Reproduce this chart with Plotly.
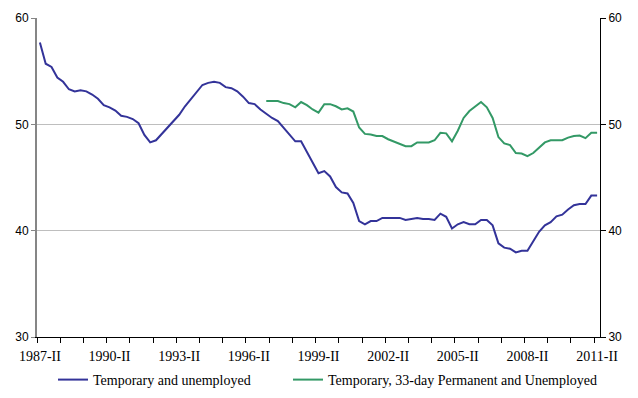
import plotly.graph_objects as go

quarters = []
for yr in range(1987, 2012):
    for q in ["I", "II", "III", "IV"]:
        quarters.append(f"{yr}-{q}")
quarters = quarters[1:98]  # 1987-II .. 2011-II

temp_unemployed = [
    57.7, 55.7, 55.4, 54.4, 54.0, 53.3, 53.1, 53.2, 53.1, 52.8,
    52.4, 51.8, 51.6, 51.3, 50.8, 50.7, 50.5, 50.1, 49.0, 48.3,
    48.5, 49.1, 49.7, 50.4, 50.9, 51.7, 52.4, 53.0, 53.7, 53.9,
    54.0, 53.9, 53.5, 53.4, 53.1, 52.6, 52.0, 51.9, 51.4, 51.0,
    50.6, 50.3, 49.7, 49.1, 48.4, 48.4, 47.4, 46.3, 45.4, 45.6,
    45.1, 44.1, 43.6, 43.5, 42.6, 40.9, 40.6, 40.9, 40.9, 41.2,
    41.2, 41.2, 41.2, 41.0, 41.1, 41.2, 41.1, 41.1, 41.0, 41.6,
    41.3, 40.2, 40.6, 40.8, 40.6, 40.6, 41.0, 41.0, 40.5, 38.8,
    38.4, 38.3, 37.95, 38.1, 38.1, 39.0, 39.9, 40.5, 40.8, 41.35,
    41.5, 42.0, 42.4, 42.5, 42.5, 43.3, 43.3,
]

temp_33day_perm_unemployed = [None] * 39 + [
    52.2, 52.2, 52.2, 52.0, 51.9, 51.6, 52.1, 51.8, 51.4, 51.1,
    51.9, 51.9, 51.7, 51.4, 51.5, 51.2, 49.7, 49.1, 49.05, 48.9,
    48.9, 48.6, 48.4, 48.2, 47.95, 47.95, 48.3, 48.3, 48.3, 48.5,
    49.2, 49.15, 48.4, 49.4, 50.6, 51.25, 51.7, 52.1, 51.6, 50.6,
    48.8, 48.2, 48.05, 47.3, 47.25, 47.0, 47.3, 47.8, 48.3, 48.5,
    48.5, 48.5, 48.75, 48.9, 48.95, 48.7, 49.2, 49.2,
]

label_every = 12
idx = list(range(len(quarters)))
tick_idx = idx[::label_every]
tick_text = [quarters[i] for i in tick_idx]

fig = go.Figure()
fig.add_trace(go.Scatter(
    x=idx, y=temp_unemployed, mode="lines",
    name="Temporary and unemployed",
    line=dict(color="#333399", width=2),
    legend="legend",
))
fig.add_trace(go.Scatter(
    x=idx, y=temp_33day_perm_unemployed, mode="lines",
    name="Temporary, 33-day Permanent and Unemployed",
    line=dict(color="#339966", width=2),
    yaxis="y2", legend="legend2",
))

serif = "Liberation Serif"
sans = "Liberation Sans"

legend_common = dict(
    orientation="h", xref="container", yref="container",
    xanchor="left", y=1 - 380 / 398, yanchor="middle",
    font=dict(family=serif, size=14, color="black"),
    bgcolor="rgba(0,0,0,0)",
)

fig.update_layout(
    width=638, height=398,
    margin=dict(l=37, r=38, t=18, b=61, autoexpand=False),
    paper_bgcolor="white", plot_bgcolor="white",
    showlegend=True,
    legend=dict(x=53 / 638, **legend_common),
    legend2=dict(x=288 / 638, **legend_common),
    xaxis=dict(
        range=[-0.5, len(quarters) - 0.5],
        tickmode="array", tickvals=tick_idx, ticktext=tick_text,
        ticks="", showgrid=False, zeroline=False, automargin=False,
        showline=True, linecolor="black", linewidth=1,
        ticklabelstandoff=6,
        tickfont=dict(family=serif, size=14, color="black"),
        minor=dict(tick0=-0.5, dtick=4, ticks="outside", ticklen=5,
                   tickcolor="black", tickwidth=1, showgrid=False),
    ),
    yaxis=dict(
        range=[30, 60], dtick=10, tick0=30, automargin=False,
        showgrid=True, gridcolor="#BEBEBE", gridwidth=1, zeroline=False,
        showline=True, linecolor="#868686", linewidth=2,
        ticks="outside", ticklen=4, tickcolor="#868686",
        tickfont=dict(family=sans, size=12, color="black"),
    ),
    yaxis2=dict(
        range=[30, 60], dtick=10, tick0=30, overlaying="y", side="right",
        showgrid=False, zeroline=False, automargin=False,
        showline=True, linecolor="black", linewidth=1,
        ticks="outside", ticklen=5, tickcolor="black",
        tickfont=dict(family=sans, size=12, color="black"),
    ),
)

fig.write_html(
    "out.html",
    config={"displayModeBar": False},
    post_script="document.body.style.margin='0px';document.body.style.padding='0px';",
)
